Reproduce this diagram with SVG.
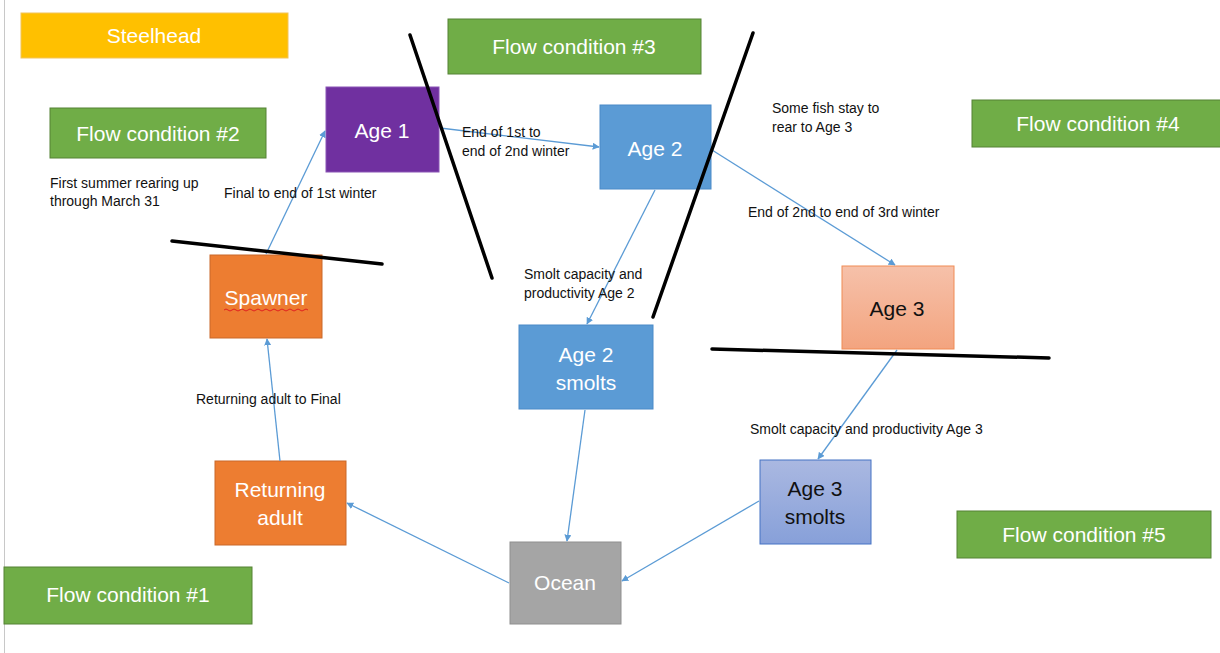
<svg xmlns="http://www.w3.org/2000/svg" width="1220" height="653" viewBox="0 0 1220 653">
<style>
.big{font-family:"Liberation Sans",Arial,sans-serif;font-size:21px;fill:#fff;text-anchor:middle}
.dark{fill:#111}
.lbl{font-family:"Liberation Sans",Arial,sans-serif;font-size:14px;fill:#111}
.green{fill:#70AD47;stroke:#548235;stroke-width:1}
.conn{stroke:#5B9BD5;stroke-width:1.3;fill:none;marker-end:url(#arr)}
.cut{stroke:#000;stroke-width:3.5;stroke-linecap:round}
</style>
<defs>
<marker id="arr" viewBox="0 0 10 10" refX="9" refY="5" markerWidth="7" markerHeight="7" orient="auto" markerUnits="userSpaceOnUse">
<path d="M0,0 L10,5 L0,10 z" fill="#5B9BD5"/>
</marker>
<linearGradient id="g3" x1="0" y1="0" x2="0" y2="1"><stop offset="0" stop-color="#F6C1AA"/><stop offset="1" stop-color="#F3A47F"/></linearGradient>
<linearGradient id="gs3" x1="0" y1="0" x2="0" y2="1"><stop offset="0" stop-color="#AAB8E1"/><stop offset="1" stop-color="#87A0D9"/></linearGradient>
</defs>
<rect width="1220" height="653" fill="#fff"/>
<line x1="4.5" y1="0" x2="4.5" y2="653" stroke="#c8c8c8" stroke-width="1"/>

<g id="steelhead"><rect x="21" y="13" width="267" height="45" fill="#FFC000" stroke="#F2C45A"/><text class="big" x="154" y="43">Steelhead</text></g>
<g id="flow3"><rect class="green" x="448" y="19" width="253" height="55"/><text class="big" x="574" y="54">Flow condition #3</text></g>
<g id="flow2"><rect class="green" x="50" y="108" width="216" height="50"/><text class="big" x="158" y="141">Flow condition #2</text></g>
<g id="flow4"><rect class="green" x="972" y="100" width="250" height="47"/><text class="big" x="1098" y="131">Flow condition #4</text></g>
<g id="flow5"><rect class="green" x="957" y="511" width="254" height="47"/><text class="big" x="1084" y="542">Flow condition #5</text></g>
<g id="flow1"><rect class="green" x="4" y="567" width="248" height="57"/><text class="big" x="128" y="602">Flow condition #1</text></g>

<g id="age1"><rect x="326" y="87" width="113" height="85" fill="#7030A0" stroke="#8a55b5"/><text class="big" x="382" y="138">Age 1</text></g>
<g id="age2"><rect x="600" y="105" width="111" height="84" fill="#5B9BD5" stroke="#4a8ac8"/><text class="big" x="655" y="156">Age 2</text></g>
<g id="age3"><rect x="842" y="266" width="112" height="83" fill="url(#g3)" stroke="#F08B55"/><text class="big dark" x="897" y="316">Age 3</text></g>
<g id="spawner"><rect x="210" y="255" width="112" height="83" fill="#ED7D31" stroke="#C9692A"/><text class="big" x="266" y="305">Spawner</text><path d="M224,310 q2,-2 4,0 t4,0 t4,0 t4,0 t4,0 t4,0 t4,0 t4,0 t4,0 t4,0 t4,0 t4,0 t4,0 t4,0 t4,0 t4,0 t4,0 t4,0 t4,0 t4,0 t4,0" fill="none" stroke="#e02020" stroke-width="1"/></g>
<g id="age2smolts"><rect x="519" y="325" width="134" height="84" fill="#5B9BD5" stroke="#4a8ac8"/><text class="big" x="586" y="362">Age 2</text><text class="big" x="586" y="390">smolts</text></g>
<g id="returning"><rect x="215" y="461" width="131" height="84" fill="#ED7D31" stroke="#C9692A"/><text class="big" x="280" y="497">Returning</text><text class="big" x="280" y="525">adult</text></g>
<g id="ocean"><rect x="510" y="542" width="111" height="82" fill="#A5A5A5" stroke="#8f8f8f"/><text class="big" x="565" y="590">Ocean</text></g>
<g id="age3smolts"><rect x="760" y="460" width="111" height="84" fill="url(#gs3)" stroke="#4472C4"/><text class="big dark" x="815" y="496">Age 3</text><text class="big dark" x="815" y="524">smolts</text></g>

<g id="connectors">
<line class="conn" x1="266" y1="254" x2="325" y2="131"/>
<line class="conn" x1="440" y1="128" x2="599" y2="147"/>
<line class="conn" x1="712" y1="150" x2="895" y2="265"/>
<line class="conn" x1="655" y1="190" x2="587" y2="324"/>
<line class="conn" x1="585" y1="410" x2="567" y2="541"/>
<line class="conn" x1="509" y1="583" x2="347" y2="503"/>
<line class="conn" x1="759" y1="501" x2="622" y2="581"/>
<line class="conn" x1="897" y1="350" x2="818" y2="459"/>
<line class="conn" x1="280" y1="461" x2="267" y2="339"/>
</g>

<g id="cutlines">
<line class="cut" x1="410" y1="35" x2="492" y2="278"/>
<line class="cut" x1="753" y1="33" x2="653" y2="317"/>
<line class="cut" x1="172" y1="241" x2="382" y2="264"/>
<line class="cut" x1="712" y1="349" x2="1049" y2="358"/>
</g>

<g id="labels">
<text class="lbl" x="50" y="188">First summer rearing up</text>
<text class="lbl" x="50" y="206">through March 31</text>
<text class="lbl" x="224" y="198">Final to end of 1st winter</text>
<text class="lbl" x="462" y="137">End of 1st to</text>
<text class="lbl" x="462" y="156">end of 2nd winter</text>
<text class="lbl" x="772" y="113">Some fish stay to</text>
<text class="lbl" x="772" y="132">rear to Age 3</text>
<text class="lbl" x="748" y="217">End of 2nd to end of 3rd winter</text>
<text class="lbl" x="524" y="279">Smolt capacity and</text>
<text class="lbl" x="524" y="298">productivity Age 2</text>
<text class="lbl" x="196" y="404">Returning adult to Final</text>
<text class="lbl" x="750" y="434">Smolt capacity and productivity Age 3</text>
</g>
</svg>
